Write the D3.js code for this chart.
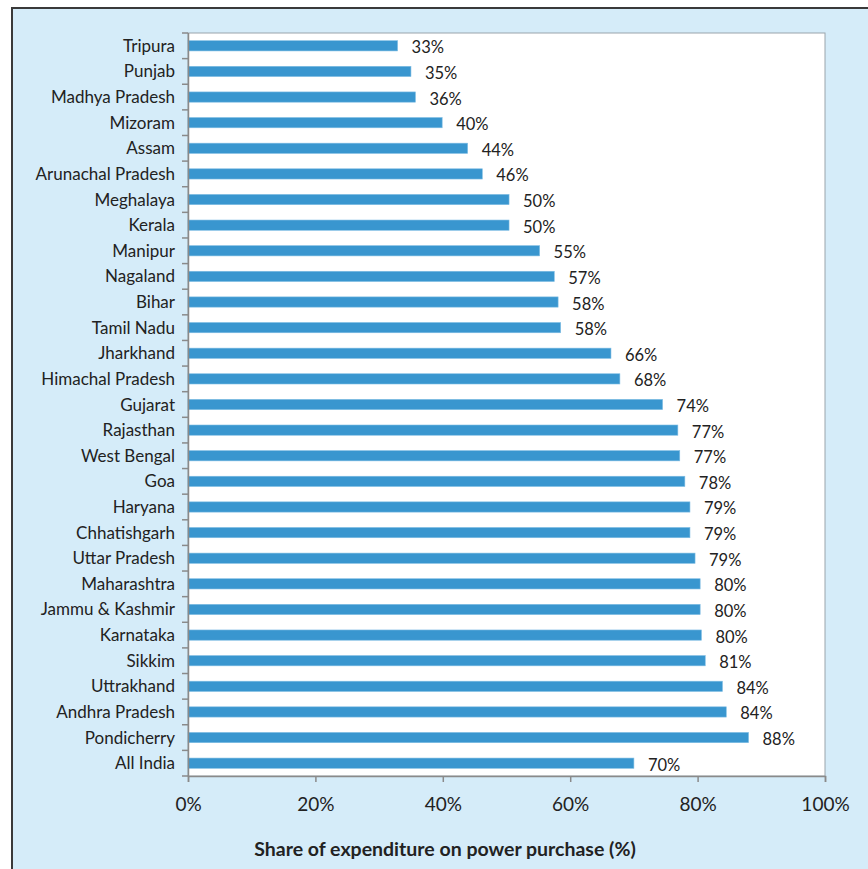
<!DOCTYPE html>
<html><head><meta charset="utf-8">
<script src="https://cdn.jsdelivr.net/npm/d3@7"></script>
<style>body{margin:0;background:#fff}svg{display:block}</style>
</head><body>
<script>
const states = ["Tripura","Punjab","Madhya Pradesh","Mizoram","Assam","Arunachal Pradesh","Meghalaya","Kerala","Manipur","Nagaland","Bihar","Tamil Nadu","Jharkhand","Himachal Pradesh","Gujarat","Rajasthan","West Bengal","Goa","Haryana","Chhatishgarh","Uttar Pradesh","Maharashtra","Jammu & Kashmir","Karnataka","Sikkim","Uttrakhand","Andhra Pradesh","Pondicherry","All India"];
const shares = [32.9,35.0,35.7,39.9,43.9,46.2,50.4,50.4,55.2,57.5,58.1,58.5,66.4,67.8,74.5,76.9,77.2,78.0,78.8,78.8,79.6,80.4,80.4,80.6,81.2,83.9,84.5,88.0,70.0];
const valueLabels = ["33%","35%","36%","40%","44%","46%","50%","50%","55%","57%","58%","58%","66%","68%","74%","77%","77%","78%","79%","79%","79%","80%","80%","80%","81%","84%","84%","88%","70%"];
const xTicks = [0,20,40,60,80,100];
const xTitle = "Share of expenditure on power purchase (%)";

(function(){
const W = 868, H = 869;
const svg = d3.select("body").append("svg").attr("width", W).attr("height", H);
const font = "Lato, 'Open Sans', sans-serif";

svg.append("rect").attr("x",0).attr("y",0).attr("width",W).attr("height",H).attr("fill","#fff");
svg.append("rect").attr("x",11).attr("y",7).attr("width",W-11).attr("height",H-7).attr("fill","#D5ECF9");
svg.append("line").attr("x1",11).attr("x2",W).attr("y1",8).attr("y2",8).attr("stroke","#3a3a3a").attr("stroke-width",2);
svg.append("line").attr("x1",12).attr("x2",12).attr("y1",7).attr("y2",H).attr("stroke","#3a3a3a").attr("stroke-width",2);

const pl = 188, pr = 825, pt = 33, pb = 776;
const x = d3.scaleLinear().domain([0,100]).range([pl,pr]);
const y = d3.scaleBand().domain(states).range([pt,pb]).paddingInner(0.6).paddingOuter(0.3);

svg.append("rect").attr("x",pl).attr("y",pt).attr("width",pr-pl).attr("height",pb-pt)
  .attr("fill","#fff").attr("stroke","#9aa4ab").attr("stroke-width",1);

svg.append("g").selectAll("rect").data(states).join("rect")
  .attr("x", x(0)).attr("y", d => y(d))
  .attr("width", (d,i) => x(shares[i]) - x(0))
  .attr("height", y.bandwidth())
  .attr("fill","#3996CF").attr("stroke","#7fbde3").attr("stroke-width",0.6);

svg.append("g").selectAll("text").data(states).join("text")
  .attr("x", (d,i) => x(shares[i]) + 14)
  .attr("y", d => y(d) + y.bandwidth()/2 + 7.5)
  .attr("font-family", font).attr("font-size", 16.5).attr("fill","#222")
  .text((d,i) => valueLabels[i]);

const yStep = (pb-pt)/states.length;
const yAx = svg.append("g");
yAx.append("line").attr("x1",pl+0.5).attr("x2",pl+0.5).attr("y1",pt).attr("y2",pb).attr("stroke","#8a8a8a").attr("stroke-width",1.5);
yAx.selectAll("line.t").data(d3.range(states.length+1)).join("line").attr("class","t")
  .attr("x1",pl-6).attr("x2",pl).attr("y1",i=>pt+i*yStep).attr("y2",i=>pt+i*yStep)
  .attr("stroke","#8a8a8a").attr("stroke-width",1.5);
yAx.selectAll("text").data(states).join("text")
  .attr("x", 175).attr("y", d => y(d) + y.bandwidth()/2 + 6)
  .attr("text-anchor","end").attr("font-family", font).attr("font-size", 17).attr("fill","#222")
  .text(d => d);

const xAxis = d3.axisBottom(x).tickValues(xTicks).tickFormat(d => d + "%").tickSize(6).tickPadding(16);
const gx = svg.append("g").attr("transform",`translate(0,${pb})`).call(xAxis);
gx.select(".domain").attr("stroke","#8a8a8a").attr("stroke-width",1.5);
gx.selectAll(".tick line").attr("stroke","#8a8a8a").attr("stroke-width",1.5);
gx.selectAll(".tick text").attr("font-family",font).attr("font-size",19).attr("fill","#222");

svg.append("text").attr("x", 445).attr("y", 856).attr("text-anchor","middle")
  .attr("font-family",font).attr("font-size",19.5).attr("font-weight","bold").attr("fill","#222")
  .text(xTitle);
})();
</script>
</body></html>
